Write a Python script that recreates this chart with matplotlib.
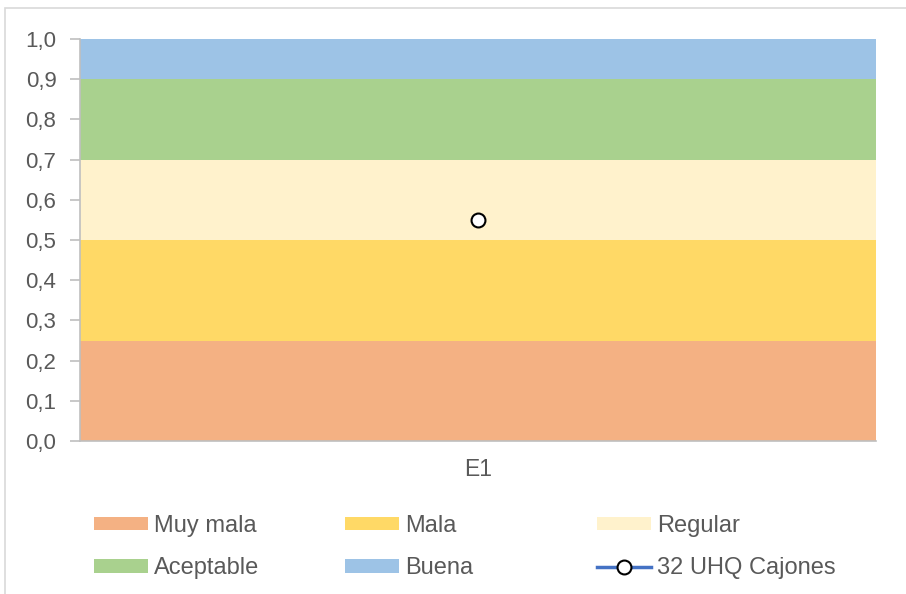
import matplotlib
matplotlib.use("Agg")
import matplotlib.pyplot as plt
from matplotlib.patches import Rectangle

plt.rcParams['font.family'] = ['Liberation Sans', 'DejaVu Sans']

categories = ["E1"]
band_names = ["Muy mala", "Mala", "Regular", "Aceptable", "Buena"]
band_sizes = [0.25, 0.25, 0.2, 0.2, 0.1]
band_colors = ["#F4B183", "#FFD966", "#FFF2CC", "#A9D18E", "#9DC3E6"]
series_name = "32 UHQ Cajones"
series_values = [0.55]
y_ticks = [0.0, 0.1, 0.2, 0.3, 0.4, 0.5, 0.6, 0.7, 0.8, 0.9, 1.0]

text_color = "#595959"
axis_color = "#BFBFBF"
W, H = 906, 594

fig = plt.figure(figsize=(W / 100, H / 100), dpi=100)
ax = fig.add_axes([80 / W, 1 - 441 / H, (876 - 80) / W, (441 - 39) / H])

# chart border
fig.patches.append(Rectangle((5 / W, -0.1), 1.2, 1 - 8 / H + 0.1,
                             transform=fig.transFigure, fill=False,
                             edgecolor="#D9D9D9", linewidth=1.2, zorder=0))

x = list(range(len(categories)))
bottom = [0.0] * len(categories)
handles = []
for name, size, color in zip(band_names, band_sizes, band_colors):
    bars = ax.bar(x, [size] * len(categories), width=1.0, bottom=bottom,
                  color=color, edgecolor="none", label=name, zorder=1)
    bottom = [b + size for b in bottom]
    handles.append(bars)

line, = ax.plot(x, series_values, color="#4472C4", linewidth=2.5,
                marker="o", markersize=10, markerfacecolor="white",
                markeredgecolor="black", markeredgewidth=1.5,
                label=series_name, zorder=3)

ax.set_xlim(-0.5, 0.5)
ax.set_ylim(0, 1.0)
ax.set_yticks(y_ticks)
ax.set_yticklabels([f"{v:.1f}".replace(".", ",") for v in y_ticks])
ax.set_xticks(x)
ax.set_xticklabels(categories)

for side in ["top", "right"]:
    ax.spines[side].set_visible(False)
for side in ["left", "bottom"]:
    ax.spines[side].set_color(axis_color)
    ax.spines[side].set_linewidth(1.2)
    ax.spines[side].set_zorder(4)
ax.tick_params(axis="y", colors=axis_color, length=7, width=1.2,
               labelcolor=text_color, labelsize=16, pad=10)
ax.tick_params(axis="x", length=0, labelcolor=text_color, labelsize=16.5, pad=12)

# legend laid out as three equal-width columns
columns = [
    ([handles[0], handles[3]], [band_names[0], band_names[3]], 94),
    ([handles[1], handles[4]], [band_names[1], band_names[4]], 345),
    ([handles[2], line], [band_names[2], series_name], 597),
]
for hs, ls, xpix in columns:
    leg = fig.legend(hs, ls, loc="upper left",
                     bbox_to_anchor=(xpix / W, 1 - 515 / H),
                     frameon=False, fontsize=17, labelcolor=text_color,
                     handlelength=2.3, handleheight=0.5, handletextpad=0.25,
                     labelspacing=0.86, borderpad=0, borderaxespad=0)

fig.savefig("out.png", dpi=100)
